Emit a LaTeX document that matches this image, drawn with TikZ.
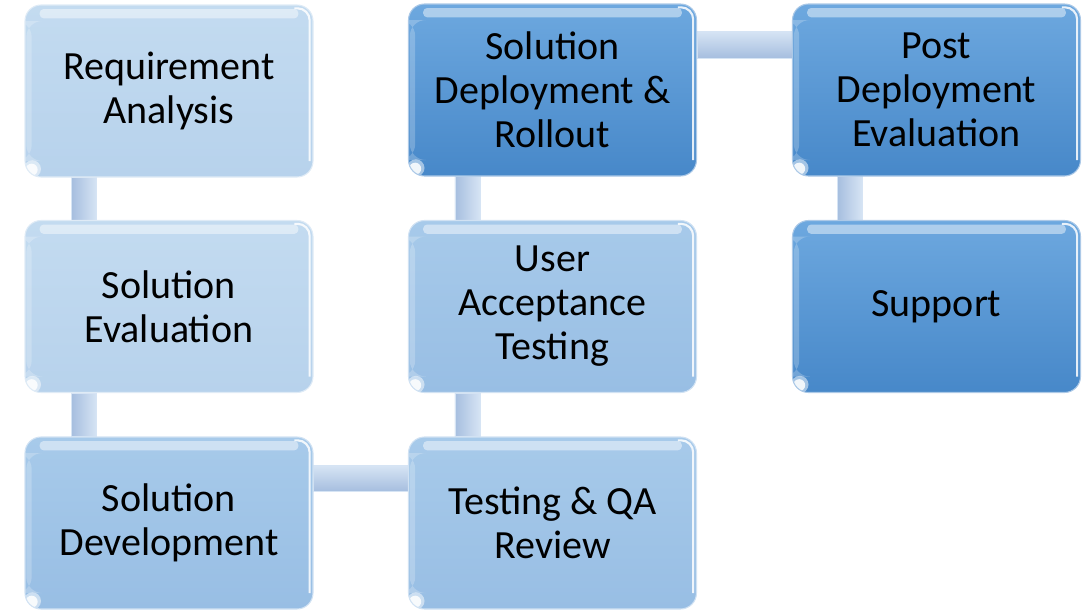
\documentclass[tikz,border=0pt]{standalone}
\usepackage{fontspec}
\setmainfont{Carlito}
\usetikzlibrary{positioning}
\pgfdeclarelayer{background}
\pgfsetlayers{background,main}
\definecolor{lightA}{HTML}{C3DBF0}
\definecolor{lightB}{HTML}{B7D2EC}
\definecolor{midA}{HTML}{A7CAEA}
\definecolor{midB}{HTML}{98BEE4}
\definecolor{darkA}{HTML}{6DA8DF}
\definecolor{darkB}{HTML}{4788C9}
\definecolor{barA}{HTML}{A6BEDF}
\definecolor{barB}{HTML}{D6E4F4}
\tikzset{
  box/.style n args={2}{rounded corners=12pt, minimum width=216pt, minimum height=129pt,
    align=center, font=\fontsize{30}{33}\selectfont, text=black,
    draw=#2!45!white, line width=0.8pt, top color=#1, bottom color=#2,
    path picture={
      \fill[white, opacity=.45, rounded corners=3pt]
        ([xshift=11pt,yshift=-3pt]path picture bounding box.north west) rectangle
        ([xshift=-11pt,yshift=-10pt]path picture bounding box.north east);
      \fill[white, opacity=.22]
        ([xshift=1pt,yshift=-12pt]path picture bounding box.north west) rectangle
        ([xshift=5pt,yshift=12pt]path picture bounding box.south west);
      \draw[white, line width=1.6pt, opacity=.85, rounded corners=9pt]
        ([xshift=-14pt,yshift=-2.5pt]path picture bounding box.north east) -|
        ([xshift=-2.5pt,yshift=12pt]path picture bounding box.south east);
      \fill[white, opacity=.5]
        ([shift={(5.5pt,6pt)}]path picture bounding box.south west) circle (6.5pt);
      \fill[white, opacity=.85]
        ([shift={(5pt,5.5pt)}]path picture bounding box.south west) circle (4.5pt);
    }},
  lightbox/.style={box={lightA}{lightB}},
  midbox/.style={box={midA}{midB}},
  darkbox/.style={box={darkA}{darkB}},
  vbar/.style={left color=barA, right color=barB, draw=barB, line width=0.5pt},
  hbar/.style={top color=barB, bottom color=barA, draw=barB, line width=0.5pt},
}
\begin{document}
\begin{tikzpicture}[x=0.75pt,y=-0.75pt]
\useasboundingbox (0,0) rectangle (1092,611);
\node[lightbox] (ra)  at (169,91)    {Requirement\\Analysis};
\node[lightbox] (se)  at (169,306.5) {Solution\\Evaluation};
\node[midbox]   (sd)  at (169,523)   {Solution\\Development};
\node[midbox]   (tq)  at (552.5,523) {Testing \& QA\\Review};
\node[midbox]   (ua)  at (552.5,306.5) {User\\Acceptance\\Testing};
\node[darkbox]  (dep) at (552.5,90)  {Solution\\Deployment \&\\Rollout};
\node[darkbox]  (pde) at (936.5,90)  {Post\\Deployment\\Evaluation};
\node[darkbox]  (sup) at (936.5,306.5) {Support};
\begin{pgfonlayer}{background}
\path[vbar] ([xshift=35.25pt]ra.south west) rectangle ([xshift=54pt]se.north west);
\path[vbar] ([xshift=35.25pt]se.south west) rectangle ([xshift=54pt]sd.north west);
\path[hbar] ([yshift=-22pt]sd.north east) rectangle ([yshift=-41pt]tq.north west);
\path[vbar] ([xshift=35.25pt]ua.south west) rectangle ([xshift=54pt]tq.north west);
\path[vbar] ([xshift=35.25pt]dep.south west) rectangle ([xshift=54pt]ua.north west);
\path[hbar] ([yshift=-21pt]dep.north east) rectangle ([yshift=-41pt]pde.north west);
\path[vbar] ([xshift=34pt]pde.south west) rectangle ([xshift=52.5pt]sup.north west);
\end{pgfonlayer}
\end{tikzpicture}
\end{document}
